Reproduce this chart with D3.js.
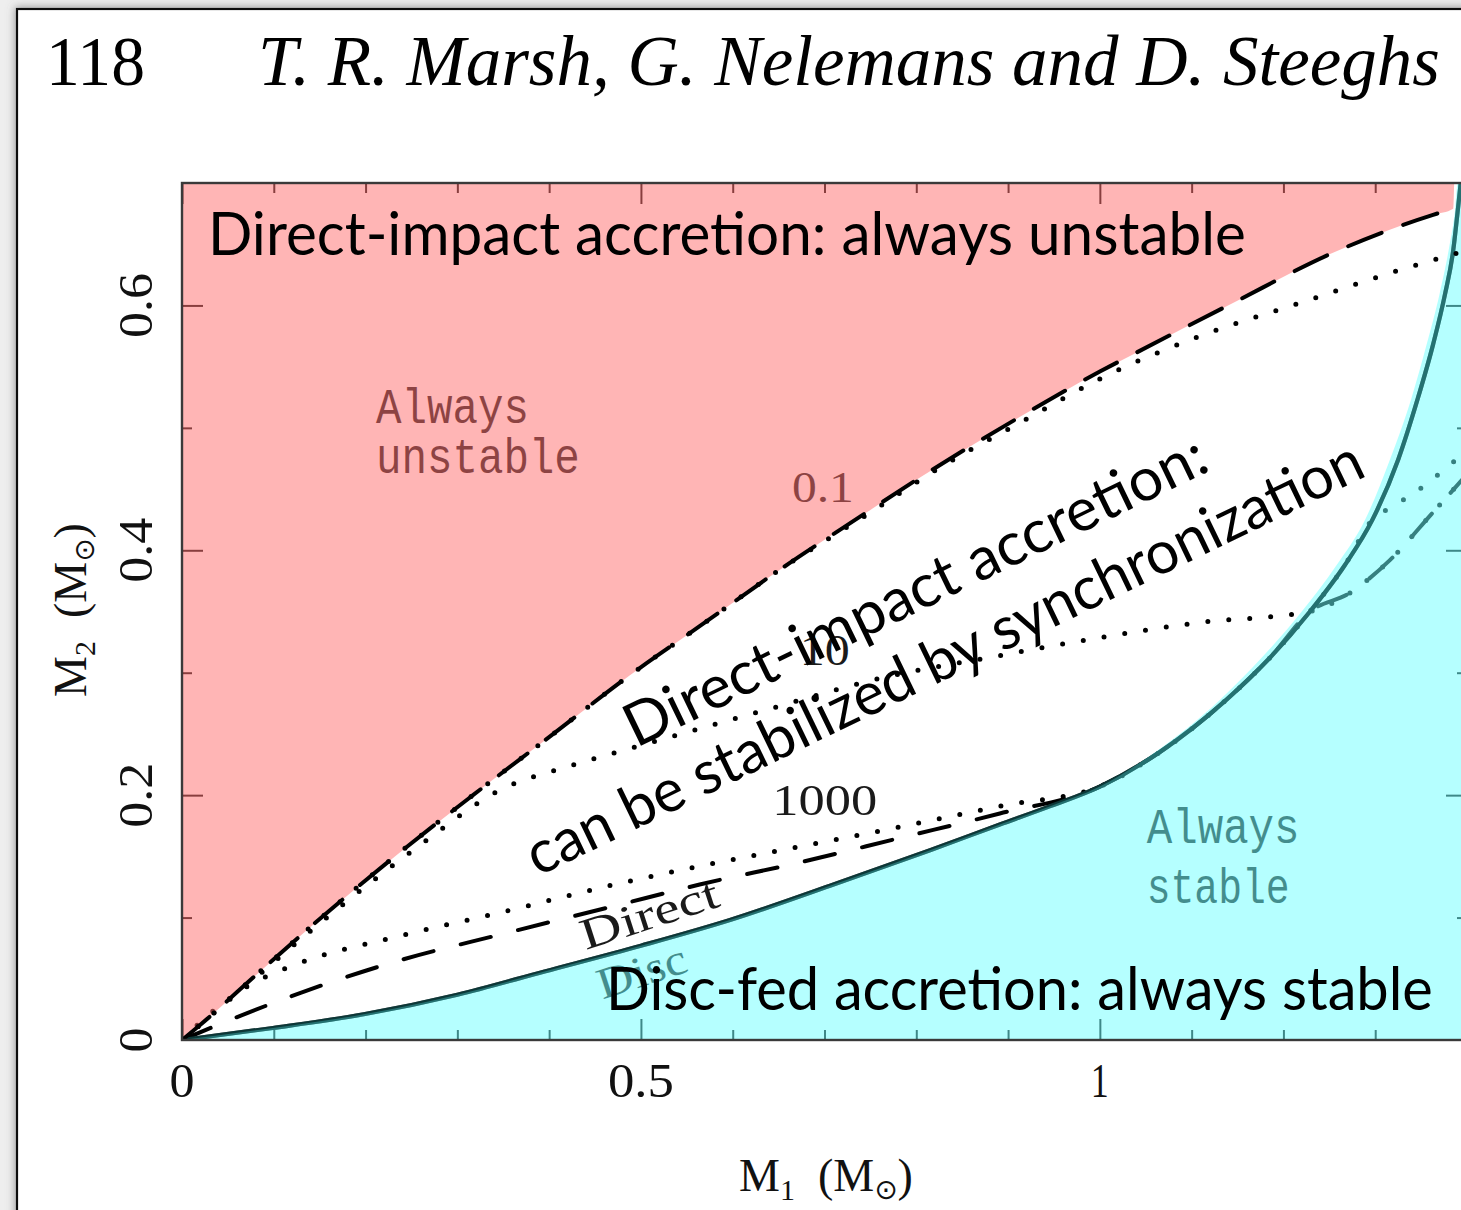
<!DOCTYPE html>
<html>
<head>
<meta charset="utf-8">
<script src="https://cdn.jsdelivr.net/npm/d3@7"></script>
<style>
  html, body { margin: 0; padding: 0; background: #eeeeee; }
  svg { display: block; }
</style>
</head>
<body>
<svg id="fig" width="1461" height="1210"></svg>
<script>
// ---------- axis ticks ----------
const xMajorTicks = [0, 0.5, 1];
const xMinorTicks = [0.1, 0.2, 0.3, 0.4, 0.6, 0.7, 0.8, 0.9, 1.1, 1.2, 1.3];
const yMajorTicks = [0, 0.2, 0.4, 0.6];
const yMinorTicks = [0.1, 0.3, 0.5];
const xTickLabels = ["0", "0.5", "1"];
const yTickLabels = ["0", "0.2", "0.4", "0.6"];

// ---------- curves, [M1, M2] in solar masses ----------
// upper stability limit (no synchronisation coupling)
const unstableEdge = [[0,0],[0.020,0.0125],[0.085,0.056],[0.158,0.104],[0.237,0.153],[0.317,0.200],
  [0.401,0.248],[0.488,0.298],[0.564,0.338],[0.655,0.386],[0.746,0.431],[0.801,0.458],[0.913,0.509],
  [1.000,0.546],[1.036,0.560],[1.145,0.602],[1.254,0.643],[1.363,0.674],[1.385,0.679]];

// synchronisation timescale limits (dotted)
const sync01 = [[0,0],[0.020,0.0125],[0.085,0.056],[0.158,0.104],[0.237,0.153],[0.317,0.200],
  [0.401,0.248],[0.488,0.298],[0.564,0.338],[0.655,0.386],[0.746,0.429],[0.818,0.464],[0.927,0.510],
  [1.000,0.540],[1.109,0.575],[1.218,0.602],[1.327,0.629],[1.400,0.645]];

const sync10 = [[0,0],[0.074,0.047],[0.161,0.102],[0.259,0.159],[0.346,0.204],[0.423,0.224],
  [0.492,0.239],[0.638,0.270],[0.764,0.296],[0.891,0.314],[0.972,0.325],[1.109,0.341],[1.229,0.350],
  [1.272,0.365],[1.316,0.392],[1.363,0.431],[1.400,0.462]];

const sync1000 = [[0,0],[0.036,0.025],[0.074,0.045],[0.118,0.060],[0.237,0.085],[0.346,0.104],
  [0.477,0.128],[0.564,0.142],[0.673,0.158],[0.782,0.174],[0.891,0.191],[1.000,0.207],
  [1.065,0.235],[1.138,0.278],[1.185,0.312],[1.229,0.350],[1.267,0.388],[1.297,0.425],
  [1.320,0.436],[1.352,0.452],[1.385,0.472],[1.400,0.481]];

// lower stability limit (dashed)
const lowerLimit = [[0,0],[0.071,0.022],[0.237,0.065],[0.346,0.086],[0.474,0.110],[0.564,0.127],
  [0.673,0.145],[0.782,0.165],[0.891,0.185],[1.000,0.207],[1.065,0.235],[1.138,0.278],[1.185,0.312],
  [1.229,0.350],[1.272,0.365],[1.316,0.392],[1.363,0.431],[1.400,0.462]];

// direct-impact / disc boundary (solid)
const directDisc = [[0,0],[0.099,0.0098],[0.198,0.021],[0.300,0.037],[0.395,0.056],[0.500,0.077],
  [0.597,0.098],[0.706,0.126],[0.815,0.155],[0.891,0.176],[0.946,0.191],[1.000,0.207],[1.065,0.235],
  [1.138,0.278],[1.185,0.312],[1.229,0.350],[1.267,0.388],[1.297,0.425],[1.325,0.474],[1.346,0.523],
  [1.363,0.568],[1.376,0.609],[1.385,0.645],[1.390,0.678],[1.393,0.699]];

// edge of the shaded "always stable" zone
const stableEdge = [[0,0],[0.099,0.0098],[0.198,0.021],[0.300,0.037],[0.395,0.056],[0.500,0.077],
  [0.597,0.098],[0.706,0.126],[0.815,0.155],[0.891,0.176],[0.946,0.191],[1.000,0.207],[1.060,0.235],
  [1.131,0.278],[1.176,0.312],[1.220,0.350],[1.258,0.388],[1.289,0.425],[1.316,0.474],[1.339,0.523],
  [1.356,0.568],[1.370,0.609],[1.380,0.645],[1.387,0.678],[1.390,0.700],[1.400,0.700]];

// ---------- layout ----------
const plot = { left: 182, right: 1467, top: 183, bottom: 1040 };
const x = d3.scaleLinear().domain([0, 1.4]).range([plot.left, plot.right]);
const y = d3.scaleLinear().domain([0, 0.7]).range([plot.bottom, plot.top]);

const svg = d3.select("#fig");
const defs = svg.append("defs");
const shadow = defs.append("filter").attr("id", "pageShadow")
  .attr("x", "-3%").attr("y", "-3%").attr("width", "110%").attr("height", "110%");
shadow.append("feDropShadow").attr("dx", -1).attr("dy", -1).attr("stdDeviation", 4)
  .attr("flood-color", "#666").attr("flood-opacity", 0.6);
defs.append("clipPath").attr("id", "plotClip").append("rect")
  .attr("x", plot.left).attr("y", plot.top)
  .attr("width", plot.right - plot.left).attr("height", plot.bottom - plot.top);

// page
svg.append("rect").attr("x", 17).attr("y", 9).attr("width", 1600).attr("height", 1400)
  .attr("fill", "#fff").attr("stroke", "#111").attr("stroke-width", 2.2)
  .attr("filter", "url(#pageShadow)");

// stretch/squeeze a text horizontally so it spans the given width
function fitWidth(sel, transform, width) {
  const natural = sel.node().getComputedTextLength();
  sel.attr("transform", `${transform} scale(${width / natural},1)`);
  return sel;
}

// running header
fitWidth(svg.append("text")
  .attr("font-family", "'Liberation Serif', 'Times New Roman', serif").attr("font-size", 70)
  .attr("fill", "#000").text("118"), "translate(46,85)", 99);
fitWidth(svg.append("text")
  .attr("font-family", "'Liberation Serif', 'Times New Roman', serif").attr("font-style", "italic")
  .attr("font-size", 71).attr("fill", "#000")
  .text("T. R. Marsh, G. Nelemans and D. Steeghs"), "translate(258,85)", 1182);

// ---------- plot ----------
const g = svg.append("g").attr("clip-path", "url(#plotClip)");
const line = d3.line().x(d => x(d[0])).y(d => y(d[1])).curve(d3.curveMonotoneX);

// ticks on all four sides (inward)
function tickRow(axis, tx, ty) {
  g.append("g").attr("transform", `translate(${tx},${ty})`).call(axis)
    .call(s => {
      s.select(".domain").remove();
      s.selectAll("text").remove();
      s.selectAll("line").attr("stroke", "#111").attr("stroke-width", 2);
    });
}
tickRow(d3.axisBottom(x).tickValues(xMajorTicks).tickSize(-21).tickFormat(""), 0, plot.bottom);
tickRow(d3.axisBottom(x).tickValues(xMinorTicks).tickSize(-10).tickFormat(""), 0, plot.bottom);
tickRow(d3.axisTop(x).tickValues(xMajorTicks).tickSize(-21).tickFormat(""), 0, plot.top);
tickRow(d3.axisTop(x).tickValues(xMinorTicks).tickSize(-10).tickFormat(""), 0, plot.top);
tickRow(d3.axisLeft(y).tickValues(yMajorTicks).tickSize(-21).tickFormat(""), plot.left, 0);
tickRow(d3.axisLeft(y).tickValues(yMinorTicks).tickSize(-10).tickFormat(""), plot.left, 0);
tickRow(d3.axisRight(y).tickValues(yMajorTicks).tickSize(-21).tickFormat(""), plot.right, 0);
tickRow(d3.axisRight(y).tickValues(yMinorTicks).tickSize(-10).tickFormat(""), plot.right, 0);

function curve(data, width, dash, color) {
  g.append("path").datum(data).attr("d", line)
    .attr("fill", "none").attr("stroke", color || "#000").attr("stroke-width", width)
    .attr("stroke-linecap", "round").attr("stroke-linejoin", "round")
    .attr("stroke-dasharray", dash);
}
const DOTS = "0 21", LONG = "31 28";
curve(directDisc, 4.2, null);
curve(lowerLimit, 4, LONG);
curve(sync10, 5, DOTS);
curve(sync1000, 5, DOTS);

// plot-label helper (data coordinates for the anchor)
const monoFont = "'Liberation Mono', 'Courier New', monospace";
const serifFont = "'Liberation Serif', 'Times New Roman', serif";
function plotLabel(txt, m1, m2, opts) {
  const t = g.append("text")
    .attr("font-family", opts.font || monoFont).attr("font-size", opts.size)
    .attr("fill", "#1a1a1a").text(txt);
  fitWidth(t, `translate(${x(m1)},${y(m2)}) rotate(${opts.angle || 0})`, opts.len);
}
plotLabel("Always", 0.2113, 0.504, { size: 50, len: 153 });
plotLabel("unstable", 0.2113, 0.463, { size: 50, len: 204 });
plotLabel("Always", 1.051, 0.161, { size: 50, len: 153 });
plotLabel("stable", 1.051, 0.112, { size: 50, len: 143 });
plotLabel("0.1", 0.6645, 0.4395, { size: 44, len: 62, font: serifFont });
plotLabel("10", 0.673, 0.306, { size: 44, len: 50, font: serifFont });
plotLabel("1000", 0.643, 0.184, { size: 44, len: 105, font: serifFont });
plotLabel("Direct", 0.440, 0.0735, { size: 44, len: 143, angle: -18, font: serifFont });
plotLabel("Disc", 0.458, 0.033, { size: 44, len: 92, angle: -18, font: serifFont });

// shaded zones (translucent, so what lies beneath takes on the tint)
const zoneArea = d3.area().x(d => x(d[0])).y1(d => y(d[1])).curve(d3.curveMonotoneX);
g.append("path").datum(unstableEdge.concat([[1.386, 0.700]]))
  .attr("d", zoneArea.y0(y(0.7))).attr("fill", "rgb(255,107,107)").attr("fill-opacity", 0.5);
g.append("path").datum(stableEdge)
  .attr("d", zoneArea.y0(y(0))).attr("fill", "rgb(107,255,255)").attr("fill-opacity", 0.5);

// the boundary line is tinted like the zone it borders
curve(directDisc, 4.2, null, "rgba(22,100,100,0.55)");

// upper limits stay black on top of the red zone
curve(unstableEdge, 4, "36 23");
curve(sync01, 5, DOTS);

// frame
svg.append("rect").attr("x", plot.left).attr("y", plot.top)
  .attr("width", plot.right - plot.left).attr("height", plot.bottom - plot.top)
  .attr("fill", "none").attr("stroke", "#3a3a3a").attr("stroke-width", 2.4);

// tick labels
svg.append("g").selectAll("text").data(xMajorTicks).join("text")
  .attr("x", d => x(d)).attr("y", 1097).attr("text-anchor", "middle")
  .attr("font-family", serifFont).attr("font-size", 48).attr("fill", "#111")
  .attr("textLength", (d, i) => [25, 66, 18][i]).attr("lengthAdjust", "spacingAndGlyphs")
  .text((d, i) => xTickLabels[i]);
svg.append("g").selectAll("text").data(yMajorTicks).join("text")
  .attr("transform", d => `translate(152,${y(d)}) rotate(-90)`).attr("text-anchor", "middle")
  .attr("font-family", serifFont).attr("font-size", 48).attr("fill", "#111")
  .attr("textLength", (d, i) => [25, 65, 65, 65][i]).attr("lengthAdjust", "spacingAndGlyphs")
  .text((d, i) => yTickLabels[i]);

// axis titles
function massTitle(sel, sub) {
  sel.attr("font-family", serifFont).attr("font-size", 46).attr("fill", "#111");
  sel.append("tspan").text("M");
  sel.append("tspan").attr("font-size", 30).attr("dy", 9).text(sub);
  sel.append("tspan").attr("font-size", 46).attr("dy", -9).text("\u2002(M");
  sel.append("tspan").attr("font-size", 28).attr("dy", 8)
    .attr("font-family", "'DejaVu Sans', sans-serif").text("\u2299");
  sel.append("tspan").attr("font-size", 46).attr("dy", -8).text(")");
}
svg.append("text").attr("x", 739).attr("y", 1191).call(massTitle, "1");
svg.append("text").attr("transform", "translate(86,697) rotate(-90)").call(massTitle, "2");

// ---------- annotations ----------
const sansFont = "Lato, 'Open Sans', sans-serif";
function note(txt, transform, width, anchor) {
  const t = svg.append("text").attr("font-family", sansFont).attr("font-size", 60)
    .attr("fill", "#000").attr("text-anchor", anchor || "start").text(txt);
  fitWidth(t, transform, width);
}
note("Direct-impact accretion: always unstable", "translate(208,255)", 1038);
note("Disc-fed accretion: always stable", "translate(606,1010)", 827);
note("Direct-impact accretion:", "translate(924,609) rotate(-25.8)", 640, "middle");
note("can be stabilized by synchronization", "translate(953,676) rotate(-25.8)", 923, "middle");
</script>
</body>
</html>
